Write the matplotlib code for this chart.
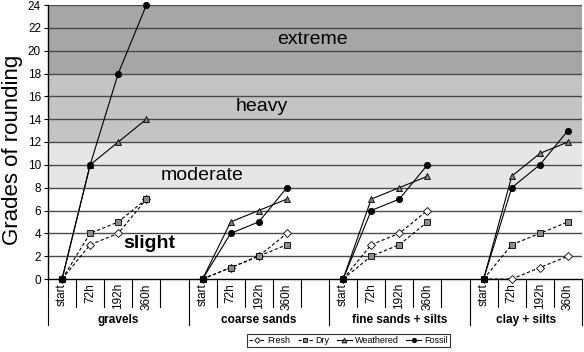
import matplotlib
matplotlib.use("Agg")
import matplotlib.pyplot as plt
from matplotlib.transforms import blended_transform_factory

plt.rcParams["font.family"] = ["Liberation Sans", "DejaVu Sans"]

groups = ["gravels", "coarse sands", "fine sands + silts", "clay + silts"]
times = ["start", "72h", "192h", "360h"]

fresh = [[0, 3, 4, 7], [0, 1, 2, 4], [0, 3, 4, 6], [0, 0, 1, 2]]
dry = [[0, 4, 5, 7], [0, 1, 2, 3], [0, 2, 3, 5], [0, 3, 4, 5]]
weathered = [[0, 10, 12, 14], [0, 5, 6, 7], [0, 7, 8, 9], [0, 9, 11, 12]]
fossil = [[0, 10, 18, 24], [0, 4, 5, 8], [0, 6, 7, 10], [0, 8, 10, 13]]

bands = [(0, 8, "white"), (8, 12, "#e6e6e6"), (12, 18, "#c4c4c4"), (18, 24, "#a6a6a6")]
band_labels = [("slight", 3.1, 3.1), ("moderate", 5.0, 9.1), ("heavy", 7.1, 15.1), ("extreme", 8.9, 21.0)]

series = [
    ("Fresh", fresh, dict(ls="--", marker="D", mfc="white", ms=4)),
    ("Dry", dry, dict(ls="--", marker="s", mfc="#8c8c8c", ms=4.5)),
    ("Weathered", weathered, dict(ls="-", marker="^", mfc="#808080", ms=5)),
    ("Fossil", fossil, dict(ls="-", marker="o", mfc="black", ms=4.5)),
]

W, H = 584, 352
fig = plt.figure(figsize=(W / 100, H / 100), dpi=100)
L, R, T, B = 48, 582, 5, 279
ax = fig.add_axes([L / W, 1 - B / H, (R - L) / W, (B - T) / H])

nslots = 19
ax.set_xlim(-0.5, nslots - 0.5)
ax.set_ylim(0, 24)

for lo, hi, c in bands:
    ax.axhspan(lo, hi, color=c, lw=0, zorder=0)
for y in range(2, 25, 2):
    ax.axhline(y, color="#4a4a4a", lw=1.0, zorder=1)

for text, x, y in band_labels:
    ax.text(x, y, text, ha="center", va="center", fontsize=14,
            fontweight="bold" if text == "slight" else "normal", zorder=2)

for name, data, st in series:
    for g, vals in enumerate(data):
        xs = [5 * g + i for i in range(len(vals))]
        ax.plot(xs, vals, color="black", lw=0.8, mec="black", mew=0.6,
                label=name if g == 0 else None, zorder=3, clip_on=False,
                dashes=(3, 2) if st["ls"] == "--" else (None, None),
                **{k: v for k, v in st.items() if k != "ls"})

ticks, labels = [], []
for g in range(len(groups)):
    for i, t in enumerate(times):
        ticks.append(5 * g + i)
        labels.append(t)
ax.set_xticks(ticks)
ax.set_xticklabels(labels, rotation=90, fontsize=8.5)
ax.tick_params(axis="x", length=0, pad=3)
ax.set_yticks(range(0, 25, 2))
ax.tick_params(axis="y", labelsize=8.5, length=3, direction="out", width=0.8, pad=2)
fig.text(12.5 / W, 1 - 150 / H, "Grades of rounding", rotation=90, fontsize=16,
         ha="center", va="center")

for s in ["top", "right"]:
    ax.spines[s].set_visible(False)
ax.spines["left"].set_linewidth(1)
ax.spines["bottom"].set_linewidth(1)

tr = blended_transform_factory(ax.transData, ax.transAxes)
hpx = B - T
for g in range(len(groups)):
    start = 5 * g
    n = 5 if g < 3 else 4
    for i in range(n - 1):
        ax.plot([start + i + 0.5] * 2, [0, -28 / hpx], color="black", lw=0.8,
                transform=tr, clip_on=False)
    ax.text(start + (n - 1) / 2, -41 / hpx, groups[g], transform=tr, ha="center",
            va="center", fontsize=8.5, fontweight="bold")
for xb in [-0.5, 4.5, 9.5, 14.5, 18.5]:
    ax.plot([xb] * 2, [0, -46 / hpx], color="black", lw=0.8, transform=tr, clip_on=False)

leg = fig.legend(loc="center", bbox_to_anchor=(348.5 / W, 1 - 340.5 / H), ncol=4,
                 fontsize=6.5, frameon=True, fancybox=False, edgecolor="black",
                 handlelength=1.7, handletextpad=0.3, columnspacing=0.8,
                 borderpad=0.25, markerscale=0.7)
leg.get_frame().set_linewidth(0.8)

fig.savefig("out.png", dpi=100)
